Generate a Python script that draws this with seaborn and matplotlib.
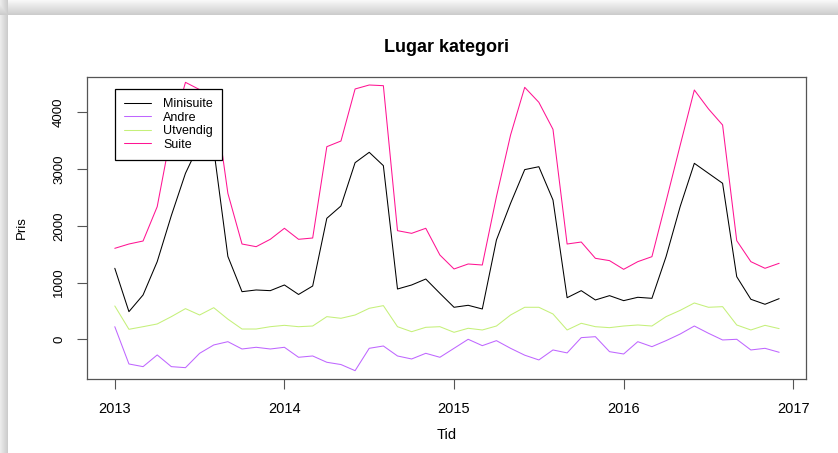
import numpy as np
import pandas as pd
import matplotlib
matplotlib.use("Agg")
import matplotlib.pyplot as plt
import seaborn as sns

# --- DATA (monthly, Jan 2013 - Dec 2016) ---
minisuite = [1251, 487, 781, 1368, 2180, 2925, 3450, 3350, 1460, 839, 869, 857,
             957, 790, 939, 2132, 2349, 3112, 3295, 3060, 886, 957, 1062, 810,
             564, 599, 534, 1750, 2396, 2990, 3041, 2455, 733, 857, 693, 769,
             681, 740, 722, 1456, 2340, 3101, 2925, 2749, 1103, 705, 617, 716]
andre = [222, -435, -482, -276, -482, -500, -247, -100, -42, -171, -141, -171,
         -141, -317, -294, -405, -445, -553, -159, -118, -294, -347, -247, -317,
         -159, 0, -112, -24, -159, -280, -364, -188, -240, 29, 46, -218,
         -259, -42, -130, -24, 93, 234, 106, -12, 0, -188, -159, -229]
utvendig = [587, 176, 222, 270, 399, 540, 428, 557, 355, 181, 181, 222,
            246, 222, 234, 399, 370, 428, 546, 593, 222, 134, 211, 222,
            123, 194, 164, 234, 428, 564, 564, 446, 164, 282, 222, 205,
            234, 252, 234, 399, 510, 640, 564, 575, 252, 164, 246, 188]
suite = [1603, 1679, 1732, 2337, 3650, 4528, 4400, 4350, 2572, 1679, 1632, 1762,
         1956, 1762, 1785, 3394, 3494, 4411, 4481, 4469, 1914, 1867, 1956, 1485,
         1239, 1327, 1309, 2513, 3600, 4440, 4176, 3700, 1679, 1714, 1427, 1386,
         1233, 1368, 1456, 2430, 3420, 4393, 4060, 3776, 1738, 1368, 1251, 1339]

kategorier = ["Minisuite", "Andre", "Utvendig", "Suite"]
farger = {"Minisuite": "#000000", "Andre": "#BF66FF",
          "Utvendig": "#C5F07A", "Suite": "#FF1493"}
x_ticks = [2013, 2014, 2015, 2016, 2017]
y_ticks = [0, 1000, 2000, 3000, 4000]

tid = 2013 + np.arange(len(minisuite)) / 12
serier = {"Minisuite": minisuite, "Andre": andre, "Utvendig": utvendig, "Suite": suite}
df = pd.concat([pd.DataFrame({"tid": tid, "pris": v, "kategori": k}) for k, v in serier.items()])

sns.set_theme(style="white")
plt.rcParams['font.family'] = ['Liberation Sans', 'DejaVu Sans']
plt.rcParams['text.color'] = 'black'
plt.rcParams['xtick.labelcolor'] = 'black'
plt.rcParams['ytick.labelcolor'] = 'black'

fig = plt.figure(figsize=(8.38, 4.53), dpi=100)
fig.patch.set_facecolor("white")

# window drop shadow on left / top edge
h, w = 453, 838
img = np.ones((h, w))
img[:15, :] = np.minimum(img[:15, :], np.linspace(0.97, 0.80, 15)[:, None])
img[:, :8] = np.minimum(img[:, :8], np.linspace(0.92, 0.80, 8)[None, :])
bg = fig.add_axes([0, 0, 1, 1], zorder=-10)
bg.imshow(img, cmap="gray", vmin=0, vmax=1, aspect="auto", interpolation="nearest")
bg.axis("off")

ax = fig.add_axes([0.1042, 0.1627, 0.8572, 0.6667])
sns.lineplot(data=df, x="tid", y="pris", hue="kategori", hue_order=kategorier,
             palette=farger, linewidth=0.75, errorbar=None, ax=ax)

ax.set_xlim(2012.838, 2017.073)
ax.set_ylim(-705, 4617)
ax.set_xticks(x_ticks)
ax.set_xticklabels([str(t) for t in x_ticks], fontsize=10.5)
ax.set_yticks(y_ticks)
ax.set_yticklabels([str(t) for t in y_ticks], fontsize=9.5, rotation=90, va="center")
ax.tick_params(axis="both", direction="out", length=7, width=0.8, color="#555555",
               bottom=True, left=True, labelcolor="black")
ax.tick_params(axis="x", pad=9)
ax.tick_params(axis="y", pad=9)
ax.set_xlabel("")
ax.set_ylabel("")
for sp in ax.spines.values():
    sp.set_color("#555555")
    sp.set_linewidth(0.9)

handles, labels = ax.get_legend_handles_labels()
leg = ax.legend(handles, labels, loc="upper left", bbox_to_anchor=(0.0386, 0.9613),
                borderaxespad=0, fontsize=9, frameon=True, fancybox=False,
                edgecolor="black", framealpha=1, borderpad=0.75, labelspacing=0.12,
                handlelength=2.1, handletextpad=1.0)
leg.get_frame().set_linewidth(0.9)
for t in leg.get_texts():
    t.set_color("black")

fig.text(446.5 / 838, 1 - 47 / 453, "Lugar kategori", ha="center", va="center",
         fontsize=13, fontweight="bold", color="black")
fig.text(446.5 / 838, 1 - 435 / 453, "Tid", ha="center", va="center", fontsize=10.5,
         color="black")
fig.text(22 / 838, 1 - 228 / 453, "Pris", ha="center", va="center", fontsize=9.5,
         rotation=90, color="black")

fig.savefig("out.png", dpi=100)
